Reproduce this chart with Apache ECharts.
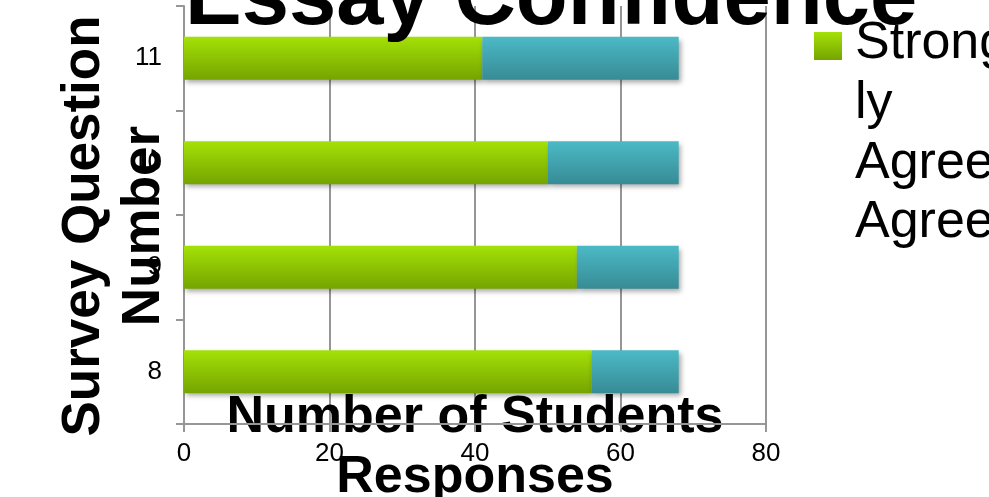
<!DOCTYPE html>
<html>
<head>
<meta charset="utf-8">
<script src="https://cdn.jsdelivr.net/npm/echarts@6/dist/echarts.min.js"></script>
<style>
  html, body { margin: 0; padding: 0; background: #fff; }
  #chart { width: 989px; height: 497px; }
</style>
</head>
<body>
<div id="chart"></div>
<script>
const titleText = 'Essay Confidence';
const categories = ['8', '9', '10', '11'];
const seriesNames = ['Strongly Agree', 'Agree'];
const legendLines = { 'Strongly Agree': ['Strong', 'ly', 'Agree'], 'Agree': ['Agree'] };
const stronglyAgree = [56, 54, 50, 41];
const agree = [12, 14, 18, 27];
const xAxisName = 'Number of Students\nResponses';
const yAxisName = 'Survey Question\nNumber';

const FONT = '"Liberation Sans", Arial, sans-serif';
const axisGray = '#969696';

const chart = echarts.init(document.getElementById('chart'), null, { renderer: 'canvas' });

function grad(top, bottom) {
  return new echarts.graphic.LinearGradient(0, 0, 0, 1, [
    { offset: 0, color: top },
    { offset: 1, color: bottom }
  ]);
}

const legendRich = {
  sp: { fontSize: 10, lineHeight: 116, height: 116 },
  t: { fontFamily: FONT, fontSize: 52, lineHeight: 60, color: '#000', padding: [0, 0, 0, 8] }
};

const option = {
  backgroundColor: '#ffffff',
  animation: false,
  title: {
    text: titleText,
    left: 185,
    top: -42,
    padding: 0,
    textStyle: { fontFamily: FONT, fontSize: 85, lineHeight: 85, fontWeight: 'bold', color: '#000' }
  },
  legend: [
    {
      data: [seriesNames[0]],
      orient: 'vertical',
      left: 814,
      top: -102,
      padding: 0,
      icon: 'rect',
      itemWidth: 28,
      itemHeight: 28,
      selectedMode: false,
      formatter: (n) => '{sp| }\n' + legendLines[n].map(s => '{t|' + s + '}').join('\n'),
      textStyle: { fontFamily: FONT, fontSize: 52, color: '#000', rich: legendRich }
    },
    {
      data: [{ name: seriesNames[1], itemStyle: { opacity: 0 } }],
      orient: 'vertical',
      left: 814,
      top: 197,
      padding: 0,
      icon: 'rect',
      itemWidth: 28,
      itemHeight: 28,
      selectedMode: false,
      formatter: (n) => legendLines[n].map(s => '{t|' + s + '}').join('\n'),
      textStyle: { fontFamily: FONT, fontSize: 52, color: '#000', rich: legendRich }
    }
  ],
  grid: { left: 184, right: 223, top: 6, bottom: 73, containLabel: false, outerBoundsMode: 'none' },
  xAxis: {
    type: 'value',
    min: 0,
    max: 80,
    interval: 20,
    name: xAxisName,
    nameLocation: 'middle',
    nameGap: -36,
    nameMoveOverlap: false,
    nameTextStyle: { fontFamily: FONT, fontSize: 52, lineHeight: 60, fontWeight: 'bold', color: '#000' },
    axisLine: { show: true, lineStyle: { color: axisGray, width: 2 } },
    axisTick: { show: true, length: 8, lineStyle: { color: axisGray, width: 2 } },
    axisLabel: { fontFamily: FONT, fontSize: 26, color: '#000', margin: 17 },
    splitLine: { show: true, lineStyle: { color: axisGray, width: 2 } }
  },
  yAxis: {
    type: 'category',
    data: categories,
    name: yAxisName,
    nameLocation: 'middle',
    nameGap: 10,
    nameMoveOverlap: false,
    nameTextStyle: { fontFamily: FONT, fontSize: 53, lineHeight: 60, fontWeight: 'bold', color: '#000', textBorderColor: '#fff', textBorderWidth: 2, padding: [0, 22, 0, 0] },
    axisLine: { show: true, lineStyle: { color: axisGray, width: 2 } },
    axisTick: { show: true, length: 8, lineStyle: { color: axisGray, width: 2 } },
    axisLabel: { fontFamily: FONT, fontSize: 26, color: '#000', margin: 22 },
    splitLine: { show: false }
  },
  series: [
    {
      name: seriesNames[0],
      type: 'bar',
      stack: 'total',
      data: stronglyAgree,
      barWidth: 43,
      itemStyle: {
        color: grad('#a4e107', '#75a400'),
        shadowColor: 'rgba(0,0,0,0.35)', shadowBlur: 5, shadowOffsetX: 2, shadowOffsetY: 3
      }
    },
    {
      name: seriesNames[1],
      type: 'bar',
      stack: 'total',
      data: agree,
      barWidth: 43,
      itemStyle: {
        color: grad('#4bbac6', '#378b95'),
        shadowColor: 'rgba(0,0,0,0.35)', shadowBlur: 5, shadowOffsetX: 2, shadowOffsetY: 3
      }
    }
  ]
};

chart.setOption(option);
</script>
</body>
</html>
